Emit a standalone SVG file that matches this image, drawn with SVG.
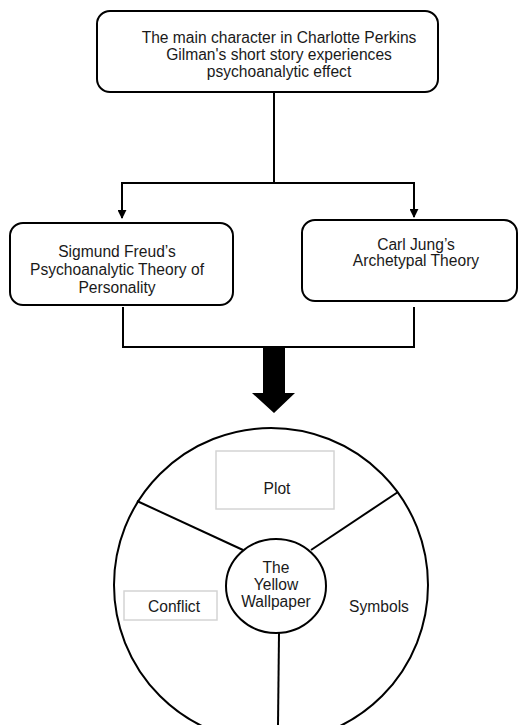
<svg xmlns="http://www.w3.org/2000/svg" width="519" height="725" viewBox="0 0 519 725">
<defs>
<style>
.box{fill:#fff;stroke:#000;stroke-width:2}
.ln{fill:none;stroke:#000;stroke-width:2}
.lbl{fill:#fff;stroke:#d4d4d4;stroke-width:1.5}
text{font-family:"Liberation Sans",Arial,sans-serif;font-size:15.6px;fill:#1a1a1a;text-anchor:middle}
</style>
<marker id="ah" viewBox="0 0 10 10" refX="9" refY="5" markerWidth="4.5" markerHeight="4.5" markerUnits="strokeWidth" orient="auto">
<path d="M0,0 L10,5 L0,10 z" fill="#000"/>
</marker>
</defs>
<rect width="519" height="725" fill="#fff"/>
<g id="connectors">
<path class="ln" d="M274,92 V183"/>
<path class="ln" d="M122,183 H414"/>
<path class="ln" d="M122,182 V218" marker-end="url(#ah)"/>
<path class="ln" d="M414,182 V217" marker-end="url(#ah)"/>
<path class="ln" d="M123,307 V347 H414 V307"/>
<path d="M263,348 H285 V393 H295 L274,413 L252,393 H263 Z" fill="#000"/>
</g>
<g id="top">
<rect class="box" x="97" y="11" width="341" height="81" rx="13"/>
<text x="279" y="43">The main character in Charlotte Perkins</text>
<text x="279" y="60">Gilman's short story experiences</text>
<text x="279" y="77">psychoanalytic effect</text>
</g>
<g id="freud">
<rect class="box" x="10" y="223" width="223" height="82" rx="13"/>
<text x="117" y="257">Sigmund Freud’s</text>
<text x="117" y="275">Psychoanalytic Theory of</text>
<text x="117" y="293">Personality</text>
</g>
<g id="jung">
<rect class="box" x="302" y="220" width="215" height="81" rx="13"/>
<text x="416" y="250">Carl Jung’s</text>
<text x="416" y="266">Archetypal Theory</text>
</g>
<g id="wheel">
<circle cx="271" cy="585" r="157" fill="#fff" stroke="#000" stroke-width="2"/>
<path class="ln" d="M137,501 L243,550"/>
<path class="ln" d="M398,492 L311,550"/>
<path class="ln" d="M279,633 L278,725"/>
</g>
<g id="center">
<ellipse cx="276" cy="586" rx="50" ry="47" fill="#fff" stroke="#000" stroke-width="2"/>
<text x="276" y="573">The</text>
<text x="276" y="590">Yellow</text>
<text x="276" y="607">Wallpaper</text>
</g>
<g id="plot">
<rect class="lbl" x="216" y="451" width="118" height="58"/>
<text x="277" y="494">Plot</text>
</g>
<g id="conflict">
<rect class="lbl" x="124" y="591" width="93" height="29"/>
<text x="174" y="612">Conflict</text>
</g>
<g id="symbols">
<text x="379" y="612">Symbols</text>
</g>
</svg>
